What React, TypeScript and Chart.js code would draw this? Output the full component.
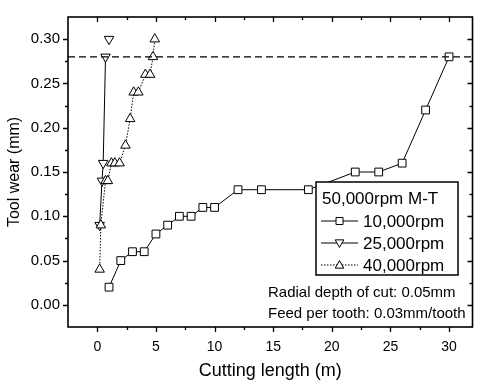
import React, { useEffect, useRef } from "react";
import { Chart, registerables } from "chart.js";

Chart.register(...registerables);

const FONT = '"Liberation Sans", Arial, Helvetica, sans-serif';

// Data (cutting length in m, tool wear in mm)
const len10k = [1, 2, 3, 4, 5, 6, 7, 8, 9, 10, 12, 14, 18, 22, 24, 26, 28, 30];
const wear10k = [0.02, 0.05, 0.06, 0.06, 0.08, 0.09, 0.1, 0.1, 0.11, 0.11, 0.13, 0.13, 0.13, 0.15, 0.15, 0.16, 0.22, 0.28];
const len25k = [0.2, 0.4, 0.5, 0.7, 1.0];
const wear25k = [0.09, 0.14, 0.16, 0.28, 0.3];
const len40k = [0.2, 0.3, 0.7, 0.9, 1.2, 1.5, 1.9, 2.4, 2.8, 3.1, 3.5, 4.1, 4.5, 4.75, 4.9];
const wear40k = [0.04, 0.09, 0.14, 0.14, 0.16, 0.16, 0.16, 0.18, 0.21, 0.24, 0.24, 0.26, 0.26, 0.28, 0.3];

const thresholdWear = 0.28;
const xMin = -2.5;
const xMax = 32;
const yMin = -0.025;
const yMax = 0.325;
const xTicks = [0, 5, 10, 15, 20, 25, 30];
const xMinorTicks = [2.5, 7.5, 12.5, 17.5, 22.5, 27.5];
const yTicks = [0, 0.05, 0.1, 0.15, 0.2, 0.25, 0.3];
const yMinorTicks = [0.025, 0.075, 0.125, 0.175, 0.225, 0.275];

const legendTitle = "50,000rpm M-T";
const seriesNames = ["10,000rpm", "25,000rpm", "40,000rpm"];
const notes = ["Radial depth of cut: 0.05mm", "Feed per tooth: 0.03mm/tooth"];
const xTitle = "Cutting length (m)";
const yTitle = "Tool wear (mm)";

const pts = (xs: number[], ys: number[]) => xs.map((x, i) => ({ x, y: ys[i] }));

function drawMarker(ctx: CanvasRenderingContext2D, kind: string, x: number, y: number, r: number) {
  ctx.beginPath();
  if (kind === "square") {
    ctx.rect(x - r, y - r, 2 * r, 2 * r);
  } else if (kind === "up") {
    ctx.moveTo(x, y - r);
    ctx.lineTo(x + r * 0.95, y + r * 0.7);
    ctx.lineTo(x - r * 0.95, y + r * 0.7);
    ctx.closePath();
  } else {
    ctx.moveTo(x, y + r);
    ctx.lineTo(x + r * 0.95, y - r * 0.7);
    ctx.lineTo(x - r * 0.95, y - r * 0.7);
    ctx.closePath();
  }
  ctx.fillStyle = "#fff";
  ctx.fill();
  ctx.stroke();
}

const decorPlugin = {
  id: "decor",
  afterDraw(chart: any) {
    const ctx: CanvasRenderingContext2D = chart.ctx;
    const { left, right, top, bottom } = chart.chartArea;
    const xs = chart.scales.x;
    const ys = chart.scales.y;
    ctx.save();
    ctx.strokeStyle = "#000";
    ctx.fillStyle = "#000";
    // ticks
    ctx.lineWidth = 1.3;
    ctx.beginPath();
    const tickX = (v: number, len: number) => {
      const p = Math.round(xs.getPixelForValue(v)) + 0.5;
      ctx.moveTo(p, bottom);
      ctx.lineTo(p, bottom + len);
      ctx.moveTo(p, top);
      ctx.lineTo(p, top + len);
    };
    const tickY = (v: number, len: number) => {
      const p = Math.round(ys.getPixelForValue(v)) + 0.5;
      ctx.moveTo(left - len, p);
      ctx.lineTo(left, p);
      ctx.moveTo(right, p);
      ctx.lineTo(right - len, p);
    };
    xTicks.forEach((v) => tickX(v, 5));
    xMinorTicks.forEach((v) => tickX(v, 3));
    yTicks.forEach((v) => tickY(v, 5));
    yMinorTicks.forEach((v) => tickY(v, 3));
    ctx.stroke();
    // frame
    ctx.lineWidth = 1.6;
    ctx.strokeRect(left, top, right - left, bottom - top);

    // legend box
    const bx = 316, by = 182, bw = 142, bh = 93;
    ctx.fillStyle = "#fff";
    ctx.fillRect(bx, by, bw, bh);
    ctx.lineWidth = 1.5;
    ctx.strokeStyle = "#000";
    ctx.strokeRect(bx, by, bw, bh);
    ctx.fillStyle = "#000";
    ctx.font = `17px ${FONT}`;
    ctx.textBaseline = "middle";
    ctx.textAlign = "left";
    ctx.fillText(legendTitle, 322, 199);
    const kinds = ["square", "down", "up"];
    const dashes = [[], [], [1.5, 1.5]];
    const rowY = [221, 243, 265];
    for (let i = 0; i < 3; i++) {
      const y = rowY[i];
      ctx.lineWidth = 1;
      ctx.setLineDash(dashes[i]);
      ctx.beginPath();
      ctx.moveTo(321, y);
      ctx.lineTo(358, y);
      ctx.stroke();
      ctx.setLineDash([]);
      drawMarker(ctx, kinds[i], 339.5, y, kinds[i] === "square" ? 3.5 : 4.5);
      ctx.fillStyle = "#000";
      ctx.fillText(seriesNames[i], 363, y + 1);
    }

    // notes
    ctx.font = `15px ${FONT}`;
    ctx.fillText(notes[0], 268, 293);
    ctx.fillText(notes[1], 268, 314);

    // axis titles
    ctx.font = `18px ${FONT}`;
    ctx.textAlign = "center";
    ctx.fillText(xTitle, (left + right) / 2, 371);
    ctx.save();
    ctx.translate(15, (top + bottom) / 2);
    ctx.rotate(-Math.PI / 2);
    ctx.font = `16px ${FONT}`;
    ctx.fillText(yTitle, 0, 0);
    ctx.restore();
    ctx.restore();
  },
};

export default function App() {
  const ref = useRef<HTMLCanvasElement | null>(null);
  useEffect(() => {
    if (!ref.current) return;
    const common = {
      borderColor: "#000",
      backgroundColor: "#fff",
      pointBorderColor: "#000",
      pointBackgroundColor: "#fff",
      pointBorderWidth: 1,
      borderWidth: 1,
      showLine: true,
      tension: 0,
    };
    const chart = new Chart(ref.current, {
      type: "scatter",
      data: {
        datasets: [
          {
            label: "threshold",
            data: [
              { x: xMin, y: thresholdWear },
              { x: xMax, y: thresholdWear },
            ],
            borderColor: "#000",
            borderWidth: 1.4,
            borderDash: [7, 4],
            pointRadius: 0,
            showLine: true,
          },
          {
            ...common,
            label: seriesNames[0],
            data: pts(len10k, wear10k),
            pointStyle: "rect",
            pointRadius: 5.5,
          },
          {
            ...common,
            label: seriesNames[2],
            data: pts(len40k, wear40k),
            pointStyle: "triangle",
            pointRadius: 5.5,
            borderDash: [1.5, 1.5],
          },
          {
            ...common,
            label: seriesNames[1],
            data: pts(len25k, wear25k),
            pointStyle: "triangle",
            pointRotation: 180,
            pointRadius: 5.5,
            segment: {
              borderColor: (c: any) => (c.p1DataIndex === len25k.length - 1 ? "rgba(0,0,0,0)" : "#000"),
            },
          },
        ],
      } as any,
      options: {
        responsive: false,
        animation: false,
        devicePixelRatio: 1,
        layout: { padding: { top: 8, right: 1, left: 0, bottom: 0 } },
        plugins: { legend: { display: false }, tooltip: { enabled: false } },
        scales: {
          x: {
            type: "linear",
            min: xMin,
            max: xMax,
            afterBuildTicks: (s: any) => {
              s.ticks = xTicks.map((v) => ({ value: v }));
            },
            afterFit: (s: any) => {
              s.height = 58;
            },
            grid: { display: false, drawTicks: false },
            border: { display: false },
            ticks: {
              padding: 12,
              color: "#000",
              autoSkip: false,
              maxRotation: 0,
              font: { family: FONT, size: 14 },
              callback: (v: any) => String(v),
            },
          },
          y: {
            type: "linear",
            min: yMin,
            max: yMax,
            afterBuildTicks: (s: any) => {
              s.ticks = yTicks.map((v) => ({ value: v }));
            },
            afterFit: (s: any) => {
              s.width = 68;
            },
            grid: { display: false, drawTicks: false },
            border: { display: false },
            ticks: {
              padding: 8,
              color: "#000",
              autoSkip: false,
              font: { family: FONT, size: 15 },
              callback: (v: any) => Number(v).toFixed(2),
            },
          },
        },
      } as any,
      plugins: [decorPlugin],
    });
    return () => chart.destroy();
  }, []);
  return (
    <div style={{ position: "absolute", left: 0, top: 0, width: 479, height: 385, background: "#fff" }}>
      <canvas ref={ref} width={479} height={385} style={{ display: "block" }} />
    </div>
  );
}
